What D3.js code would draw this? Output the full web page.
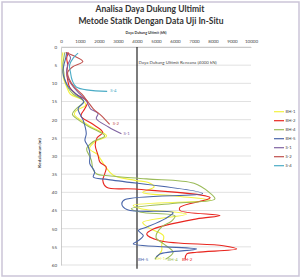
<!DOCTYPE html>
<html>
<head>
<meta charset="utf-8">
<script src="https://cdn.jsdelivr.net/npm/d3@7"></script>
<style>
  html, body { margin: 0; padding: 0; background: #fff; }
  svg text { font-family: Lato, "Open Sans", sans-serif; }
</style>
</head>
<body>
<svg id="chart" width="303" height="278"></svg>
<script>
// depth (m) and ultimate bearing capacity (kN)
const seriesNames = ["BH-1", "BH-2", "BH-4", "BH-5", "S-1", "S-2", "S-4"];
const seriesColors = ["#f2f240", "#e8261f", "#9bbb59", "#4a66aa", "#8064a2", "#c0504d", "#4bacc6"];

const bh1Depth = [1.5, 3, 5, 7, 9, 11, 13, 14.5, 16, 17.5, 18.5, 20, 22, 24.5, 26, 28, 29.5, 31, 33, 35.3, 36.7, 37.3, 38.5, 40, 41, 42.2, 43.6, 44.5, 46, 48.3, 50, 52, 54.5, 56, 58];
const bh1Value = [100, 50, 50, 100, 150, 300, 500, 1100, 1300, 800, 700, 1000, 1600, 2400, 1800, 1500, 1900, 2100, 2350, 2750, 3900, 4600, 4900, 4300, 6000, 7900, 3800, 4200, 6600, 4300, 4700, 5400, 5300, 5300, 5000];

const bh2Depth = [1.5, 3, 5, 7, 9, 11, 13, 15, 17, 19, 21, 23.5, 25, 27, 29.8, 31.7, 33, 34.9, 36.7, 38.6, 39.1, 41.5, 44.1, 45, 46.4, 47.3, 50.1, 51.5, 53.3, 54.7, 55.6, 56.5, 57, 58.4];
const bh2Value = [400, 300, 350, 300, 350, 450, 800, 1400, 1250, 1050, 1600, 2200, 1900, 1800, 1950, 2050, 2380, 2300, 2200, 2400, 3900, 7850, 6260, 6260, 8370, 7140, 4860, 4510, 5210, 8540, 9250, 7140, 6610, 6530];

const bh4Depth = [1.5, 3, 5, 7, 9, 11, 13, 15, 17, 18.5, 20, 22, 24.5, 26, 28, 30, 31.2, 33.5, 34.9, 35.5, 36.3, 37.5, 40, 41.8, 43, 44.5, 45.5, 46.5, 48, 49.5, 52.4, 54.2, 56.5, 58.4];
const bh4Value = [200, 150, 100, 150, 200, 350, 650, 1200, 800, 600, 900, 1500, 2300, 1700, 1350, 1500, 1600, 1680, 1860, 2600, 4500, 7000, 7800, 8100, 6000, 3700, 4200, 6000, 5800, 5300, 5000, 5400, 5900, 5500];

const bh5Depth = [1.5, 3, 5, 7, 9, 11, 13, 15, 17, 20.2, 23.8, 25.7, 27.5, 29.8, 32, 34.4, 35.8, 36.5, 40.3, 42, 43.2, 44.8, 45.6, 47.3, 49.6, 50.5, 51.9, 53.3, 54.2, 55.6, 57, 58.4];
const bh5Value = [300, 250, 150, 100, 200, 400, 800, 1200, 900, 1170, 1330, 1260, 1440, 1530, 1510, 1770, 1700, 2500, 7450, 3370, 3200, 3500, 5900, 5470, 4500, 4070, 4330, 4070, 3800, 7140, 5200, 4950];

const s1Depth = [1.5, 3, 5, 7, 9, 11, 13, 15, 17, 18.3, 19.7, 22, 23.9];
const s1Value = [300, 500, 350, 300, 400, 650, 1000, 1350, 1550, 1950, 1860, 2500, 3180];

const s2Depth = [1.5, 2.5, 4, 5.5, 7, 9, 11, 13, 15, 17, 19, 21.3];
const s2Value = [250, 700, 1150, 600, 350, 450, 700, 1100, 1400, 1700, 2150, 2560];

const s4Depth = [1.7, 3, 5, 7, 9, 11, 12.2];
const s4Value = [900, 650, 450, 500, 580, 800, 2430];

const depthTicks = [0, 5, 10, 15, 20, 25, 30, 35, 40, 45, 50, 55, 60];
const capacityTicks = [0, 1000, 2000, 3000, 4000, 5000, 6000, 7000, 8000, 9000, 10000];

const rencanaValue = 4000;
const rencanaDepth = [0, 61];

const series = [
  [bh1Depth, bh1Value], [bh2Depth, bh2Value], [bh4Depth, bh4Value], [bh5Depth, bh5Value],
  [s1Depth, s1Value], [s2Depth, s2Value], [s4Depth, s4Value]
].map((s, i) => ({
  name: seriesNames[i],
  color: seriesColors[i],
  points: s[0].map((d, j) => ({ depth: d, value: s[1][j] }))
}));

const svg = d3.select("#chart");

const x = d3.scaleLinear().domain([0, 10000]).range([61, 251]);
const y = d3.scaleLinear().domain([0, 60]).range([47, 265]);

// outer border
svg.append("rect")
  .attr("x", 2).attr("y", 2)
  .attr("width", 297).attr("height", 274)
  .attr("fill", "#fff")
  .attr("stroke", "#cbc5d8")
  .attr("stroke-width", 1.5);

// titles
svg.append("text")
  .attr("x", 150).attr("y", 12)
  .attr("text-anchor", "middle")
  .style("font-weight", "bold")
  .style("font-size", "8.5px")
  .attr("fill", "#333")
  .text("Analisa Daya Dukung Ultimit");

svg.append("text")
  .attr("x", 151).attr("y", 24)
  .attr("text-anchor", "middle")
  .style("font-weight", "bold")
  .style("font-size", "8.5px")
  .attr("fill", "#333")
  .text("Metode Statik Dengan Data Uji In-Situ");

// gridlines
svg.append("g")
  .selectAll("line")
  .data(depthTicks)
  .enter().append("line")
  .attr("x1", x(0)).attr("x2", x(10000))
  .attr("y1", d => y(d)).attr("y2", d => y(d))
  .attr("stroke", "#d9d9d9")
  .attr("stroke-width", 0.8);

// axes
const xAxis = svg.append("g")
  .attr("transform", `translate(0, ${y(0)})`)
  .call(d3.axisTop(x).tickValues(capacityTicks).tickSize(0).tickPadding(4).tickFormat(d3.format("d")));
xAxis.select(".domain").attr("stroke", "#bfbfbf").attr("stroke-width", 0.8);
xAxis.selectAll("text").style("font-size", "4.5px").attr("fill", "#444");

const yAxis = svg.append("g")
  .attr("transform", `translate(${x(0)}, 0)`)
  .call(d3.axisLeft(y).tickValues(depthTicks).tickSize(0).tickPadding(4));
yAxis.select(".domain").attr("stroke", "#bfbfbf").attr("stroke-width", 0.8);
yAxis.selectAll("text").style("font-size", "4.5px").attr("fill", "#444");

svg.append("text")
  .attr("x", 146).attr("y", 34)
  .attr("text-anchor", "middle")
  .style("font-weight", "bold")
  .style("font-size", "3.6px")
  .attr("fill", "#333")
  .text("Daya Dukung Ultimit (kN)");

svg.append("text")
  .attr("transform", "translate(41, 153) rotate(-90)")
  .attr("text-anchor", "middle")
  .style("font-weight", "bold")
  .style("font-size", "4.5px")
  .attr("fill", "#333")
  .text("Kedalaman (m)");

// design capacity line
svg.append("line")
  .attr("x1", x(rencanaValue)).attr("x2", x(rencanaValue))
  .attr("y1", y(rencanaDepth[0])).attr("y2", y(rencanaDepth[1]))
  .attr("stroke", "#111")
  .attr("stroke-width", 1.1);

svg.append("text")
  .attr("x", x(rencanaValue) + 1.5).attr("y", 64)
  .style("font-size", "4.4px")
  .attr("fill", "#444")
  .text("Daya Dukung Ultimit Rencana (4000 kN)");

// series
const line = d3.line()
  .x(d => x(d.value))
  .y(d => y(d.depth))
  .curve(d3.curveCatmullRom.alpha(0.5));

svg.append("g")
  .selectAll("path")
  .data(series)
  .enter().append("path")
  .attr("d", d => line(d.points))
  .attr("fill", "none")
  .attr("stroke", d => d.color)
  .attr("stroke-width", 1.1);

// end labels
const labelOffsets = { "BH-1": [-1, 2], "BH-2": [-3, 2], "BH-4": [2, 2], "BH-5": [-17, 2], "S-1": [2, 1], "S-2": [3, 1], "S-4": [3, 1] };

svg.append("g")
  .selectAll("text")
  .data(series)
  .enter().append("text")
  .attr("x", d => x(d.points[d.points.length - 1].value) + labelOffsets[d.name][0])
  .attr("y", d => y(d.points[d.points.length - 1].depth) + labelOffsets[d.name][1])
  .style("font-size", "4.3px")
  .attr("fill", d => d.color)
  .text(d => d.name);

// legend
const legend = svg.append("g")
  .selectAll("g")
  .data(series)
  .enter().append("g")
  .attr("transform", (d, i) => `translate(274, ${111.7 + i * 9})`);

legend.append("line")
  .attr("x1", 0).attr("x2", 10)
  .attr("stroke", d => d.color)
  .attr("stroke-width", 1.2);

legend.append("text")
  .attr("x", 11.5).attr("y", 1.5)
  .style("font-size", "4.2px")
  .attr("fill", "#444")
  .text(d => d.name);
</script>
</body>
</html>
